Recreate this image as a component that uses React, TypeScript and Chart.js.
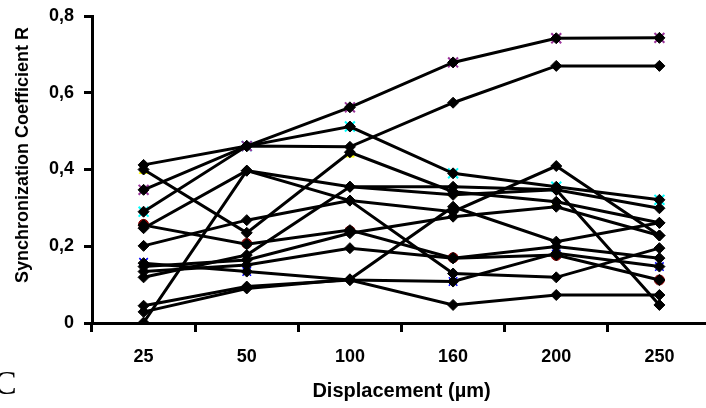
import React, { useEffect, useRef } from "react";
import { Chart, registerables } from "chart.js";

Chart.register(...registerables);

const categories = ["25", "50", "100", "160", "200", "250"];
const yTickValues = [0, 0.2, 0.4, 0.6, 0.8];
const yTitle = "Synchronization Coefficient R";
const xTitle = "Displacement (µm)";

// Black series (values at 25, 50, 100, 160, 200, 250 µm)
const s1 = [0.347, 0.461, 0.562, 0.679, 0.742, 0.743];
const s2 = [0.412, 0.461, 0.459, 0.574, 0.67, 0.67];
const s3 = [0.29, 0.461, 0.512, 0.39, 0.355, 0.321];
const s4 = [0.4, 0.235, 0.445, 0.342, 0.316, 0.261];
const s5 = [0.001, 0.397, 0.355, 0.355, 0.347, 0.047];
const s6 = [0.247, 0.397, 0.319, 0.129, 0.119, 0.195];
const s7 = [0.201, 0.268, 0.319, 0.29, 0.409, 0.228];
const s8 = [0.255, 0.205, 0.242, 0.169, 0.177, 0.112];
const s9 = [0.156, 0.134, 0.112, 0.108, 0.182, 0.147];
const s10 = [0.147, 0.164, 0.234, 0.277, 0.303, 0.228];
const s11 = [0.134, 0.151, 0.195, 0.169, 0.199, 0.169];
const s12 = [0.119, 0.177, 0.355, 0.334, 0.347, 0.299];
const s13 = [0.045, 0.095, 0.112, 0.047, 0.073, 0.073];
const s14 = [0.029, 0.09, 0.114, 0.303, 0.212, 0.261];

const blackSeries = [s1, s2, s3, s4, s5, s6, s7, s8, s9, s10, s11, s12, s13, s14];

// Coloured markers peeking out under the black diamonds
const accentPurple = [0.347, 0.461, 0.562, 0.679, 0.742, 0.743];
const accentCyan = [0.29, 0.461, 0.512, 0.39, 0.355, 0.321];
const accentYellow = [0.396, null, 0.439, 0.337, 0.311, null];
const accentRed = [0.257, 0.207, 0.24, 0.17, 0.176, 0.112];
const accentBlue = [0.158, 0.134, null, 0.108, 0.18, 0.147];

const yTitlePlugin = {
  id: "yTitleCustom",
  afterDraw(chart: any) {
    const ctx = chart.ctx;
    ctx.save();
    ctx.translate(23, 155);
    ctx.rotate(-Math.PI / 2);
    ctx.font = 'bold 18px "Liberation Sans", Arial, sans-serif';
    ctx.fillStyle = "#000";
    ctx.textAlign = "center";
    ctx.textBaseline = "middle";
    ctx.fillText(yTitle, 0, 0);
    ctx.restore();
  },
};

export default function App() {
  const ref = useRef<HTMLCanvasElement | null>(null);

  useEffect(() => {
    if (!ref.current) return;
    Chart.defaults.font.family = '"Liberation Sans", Arial, sans-serif';
    Chart.defaults.color = "#000";

    const black = blackSeries.map((d, i) => ({
      label: "S" + (i + 1),
      data: d,
      borderColor: "#000",
      backgroundColor: "#000",
      borderWidth: 3,
      pointStyle: "rectRot" as const,
      pointRadius: 5.5,
      pointBorderWidth: 1,
      pointBorderColor: "#000",
      pointBackgroundColor: "#000",
      tension: 0,
    }));

    const accent = (data: (number | null)[], color: string, style: any, r: number, bw: number) => ({
      label: "accent",
      data,
      showLine: false,
      borderColor: color,
      backgroundColor: color,
      pointStyle: style,
      pointRadius: r,
      pointBorderWidth: bw,
      pointBorderColor: color,
      pointBackgroundColor: color,
    });

    const chart = new Chart(ref.current, {
      type: "line",
      data: {
        labels: categories,
        datasets: [
          ...black,
          accent(accentPurple, "#993399", "crossRot", 7, 2),
          accent(accentCyan, "#00ffff", "crossRot", 7, 2),
          accent(accentYellow, "#ffff00", "triangle", 5, 1),
          accent(accentRed, "#800000", "circle", 5, 1),
          accent(accentBlue, "#0000ff", "crossRot", 6, 1.5),
        ] as any,
      },
      options: {
        animation: false,
        responsive: false,
        maintainAspectRatio: false,
        layout: { padding: { left: 0, right: 9, top: 16, bottom: 0 } },
        plugins: { legend: { display: false }, tooltip: { enabled: false } },
        scales: {
          x: {
            type: "category",
            offset: true,
            grid: {
              offset: true,
              drawOnChartArea: false,
              drawTicks: true,
              tickLength: 9,
              tickWidth: 3,
              tickColor: "#000",
              color: "#000",
            },
            border: { display: true, color: "#000", width: 3 },
            ticks: { font: { size: 18, weight: "bold" }, color: "#000", padding: 14 },
            title: {
              display: true,
              text: xTitle,
              font: { size: 20, weight: "bold" },
              color: "#000",
              padding: { top: 0, bottom: 5 },
            },
            afterFit: (scale: any) => {
              scale.height = 85;
              scale.paddingLeft = 0;
              scale.paddingRight = 0;
            },
          },
          y: {
            min: 0,
            max: 0.8,
            afterBuildTicks: (scale: any) => {
              scale.ticks = yTickValues.map((v) => ({ value: v }));
            },
            grid: {
              drawOnChartArea: false,
              drawTicks: true,
              tickLength: 8,
              tickWidth: 3,
              tickColor: "#000",
              color: "#000",
            },
            border: { display: true, color: "#000", width: 3 },
            ticks: {
              font: { size: 18, weight: "bold" },
              color: "#000",
              padding: 10,
              callback: (v: any) => (Number(v) === 0 ? "0" : Number(v).toFixed(1).replace(".", ",")),
            },
            afterFit: (scale: any) => {
              scale.width = 92;
              scale.paddingTop = 0;
              scale.paddingBottom = 0;
            },
          },
        },
      },
      plugins: [yTitlePlugin],
    });
    return () => chart.destroy();
  }, []);

  return (
    <div
      style={{
        position: "fixed",
        left: 0,
        top: 0,
        width: 706,
        height: 408,
        overflow: "hidden",
        background: "#fff",
      }}
    >
      <canvas ref={ref} width={720} height={408} style={{ width: 720, height: 408, display: "block" }} />
      <div
        style={{
          position: "absolute",
          left: -6,
          top: 366,
          fontFamily: '"Liberation Serif", "Times New Roman", serif',
          fontSize: 34,
          lineHeight: "34px",
          color: "#000",
        }}
      >
        C
      </div>
    </div>
  );
}
